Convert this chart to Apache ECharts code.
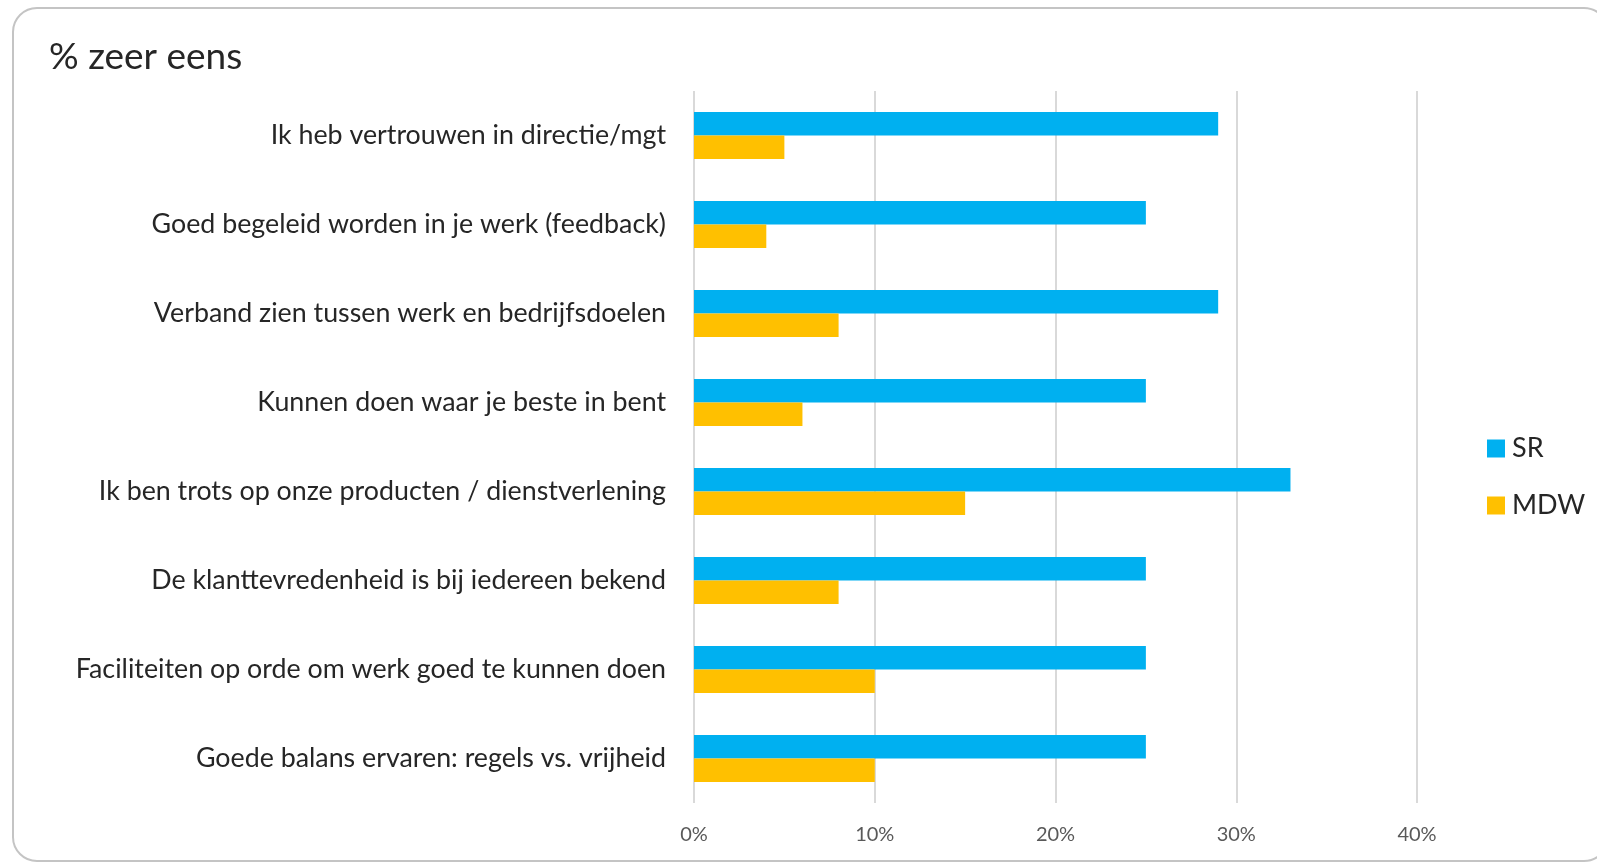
<!DOCTYPE html>
<html>
<head>
<meta charset="utf-8">
<script src="https://cdn.jsdelivr.net/npm/echarts@6/dist/echarts.min.js"></script>
<style>
html,body{margin:0;padding:0;background:#fff;}
#main{width:1597px;height:863px;}
</style>
</head>
<body>
<div id="main"></div>
<script>
const categories = [
  "Ik heb vertrouwen in directie/mgt",
  "Goed begeleid worden in je werk (feedback)",
  "Verband zien tussen werk en bedrijfsdoelen",
  "Kunnen doen waar je beste in bent",
  "Ik ben trots op onze producten / dienstverlening",
  "De klanttevredenheid is bij iedereen bekend",
  "Faciliteiten op orde om werk goed te kunnen doen",
  "Goede balans ervaren: regels vs. vrijheid"
];
const srValues = [29, 25, 29, 25, 33, 25, 25, 25];
const mdwValues = [5, 4, 8, 6, 15, 8, 10, 10];
const seriesNames = ["SR", "MDW"];
const titleText = "% zeer eens";

const FONT = "Lato";
const chart = echarts.init(document.getElementById('main'), null, {renderer: 'canvas'});
chart.setOption({
  animation: false,
  backgroundColor: '#ffffff',
  graphic: [{
    type: 'rect',
    shape: {x: 13, y: 8, width: 1595, height: 853, r: 24},
    style: {fill: 'none', stroke: '#c4c4c4', lineWidth: 2},
    z: -1
  }],
  title: {
    text: titleText,
    left: 44,
    top: 31,
    textStyle: {fontFamily: FONT, fontSize: 37, fontWeight: 'normal', color: '#262626', lineHeight: 42}
  },
  legend: {
    orient: 'vertical',
    left: 1482,
    top: 430,
    itemWidth: 18,
    itemHeight: 18,
    itemGap: 30,
    icon: 'rect',
    textStyle: {fontFamily: FONT, fontSize: 27, color: '#262626', lineHeight: 27, padding: [0, 0, 0, 2]},
    data: seriesNames
  },
  grid: {left: 694, right: 1597 - 1417, top: 91, bottom: 863 - 803, containLabel: false},
  xAxis: {
    type: 'value',
    min: 0, max: 40, interval: 10,
    axisLine: {show: false},
    axisTick: {show: false},
    splitLine: {show: true, lineStyle: {color: '#d9d9d9', width: 2}},
    axisLabel: {formatter: '{value}%', fontFamily: FONT, fontSize: 20, color: '#595959', margin: 22}
  },
  yAxis: {
    type: 'category',
    inverse: true,
    data: categories,
    axisLine: {show: false},
    axisTick: {show: false},
    axisLabel: {fontFamily: FONT, fontSize: 26.8, color: '#262626', margin: 28}
  },
  series: [
    {name: seriesNames[0], type: 'bar', data: srValues, barWidth: 23.5, barGap: '0%', itemStyle: {color: '#00B0F0'}},
    {name: seriesNames[1], type: 'bar', data: mdwValues, barWidth: 23.5, barGap: '0%', itemStyle: {color: '#FFC000'}}
  ]
});
</script>
</body>
</html>
